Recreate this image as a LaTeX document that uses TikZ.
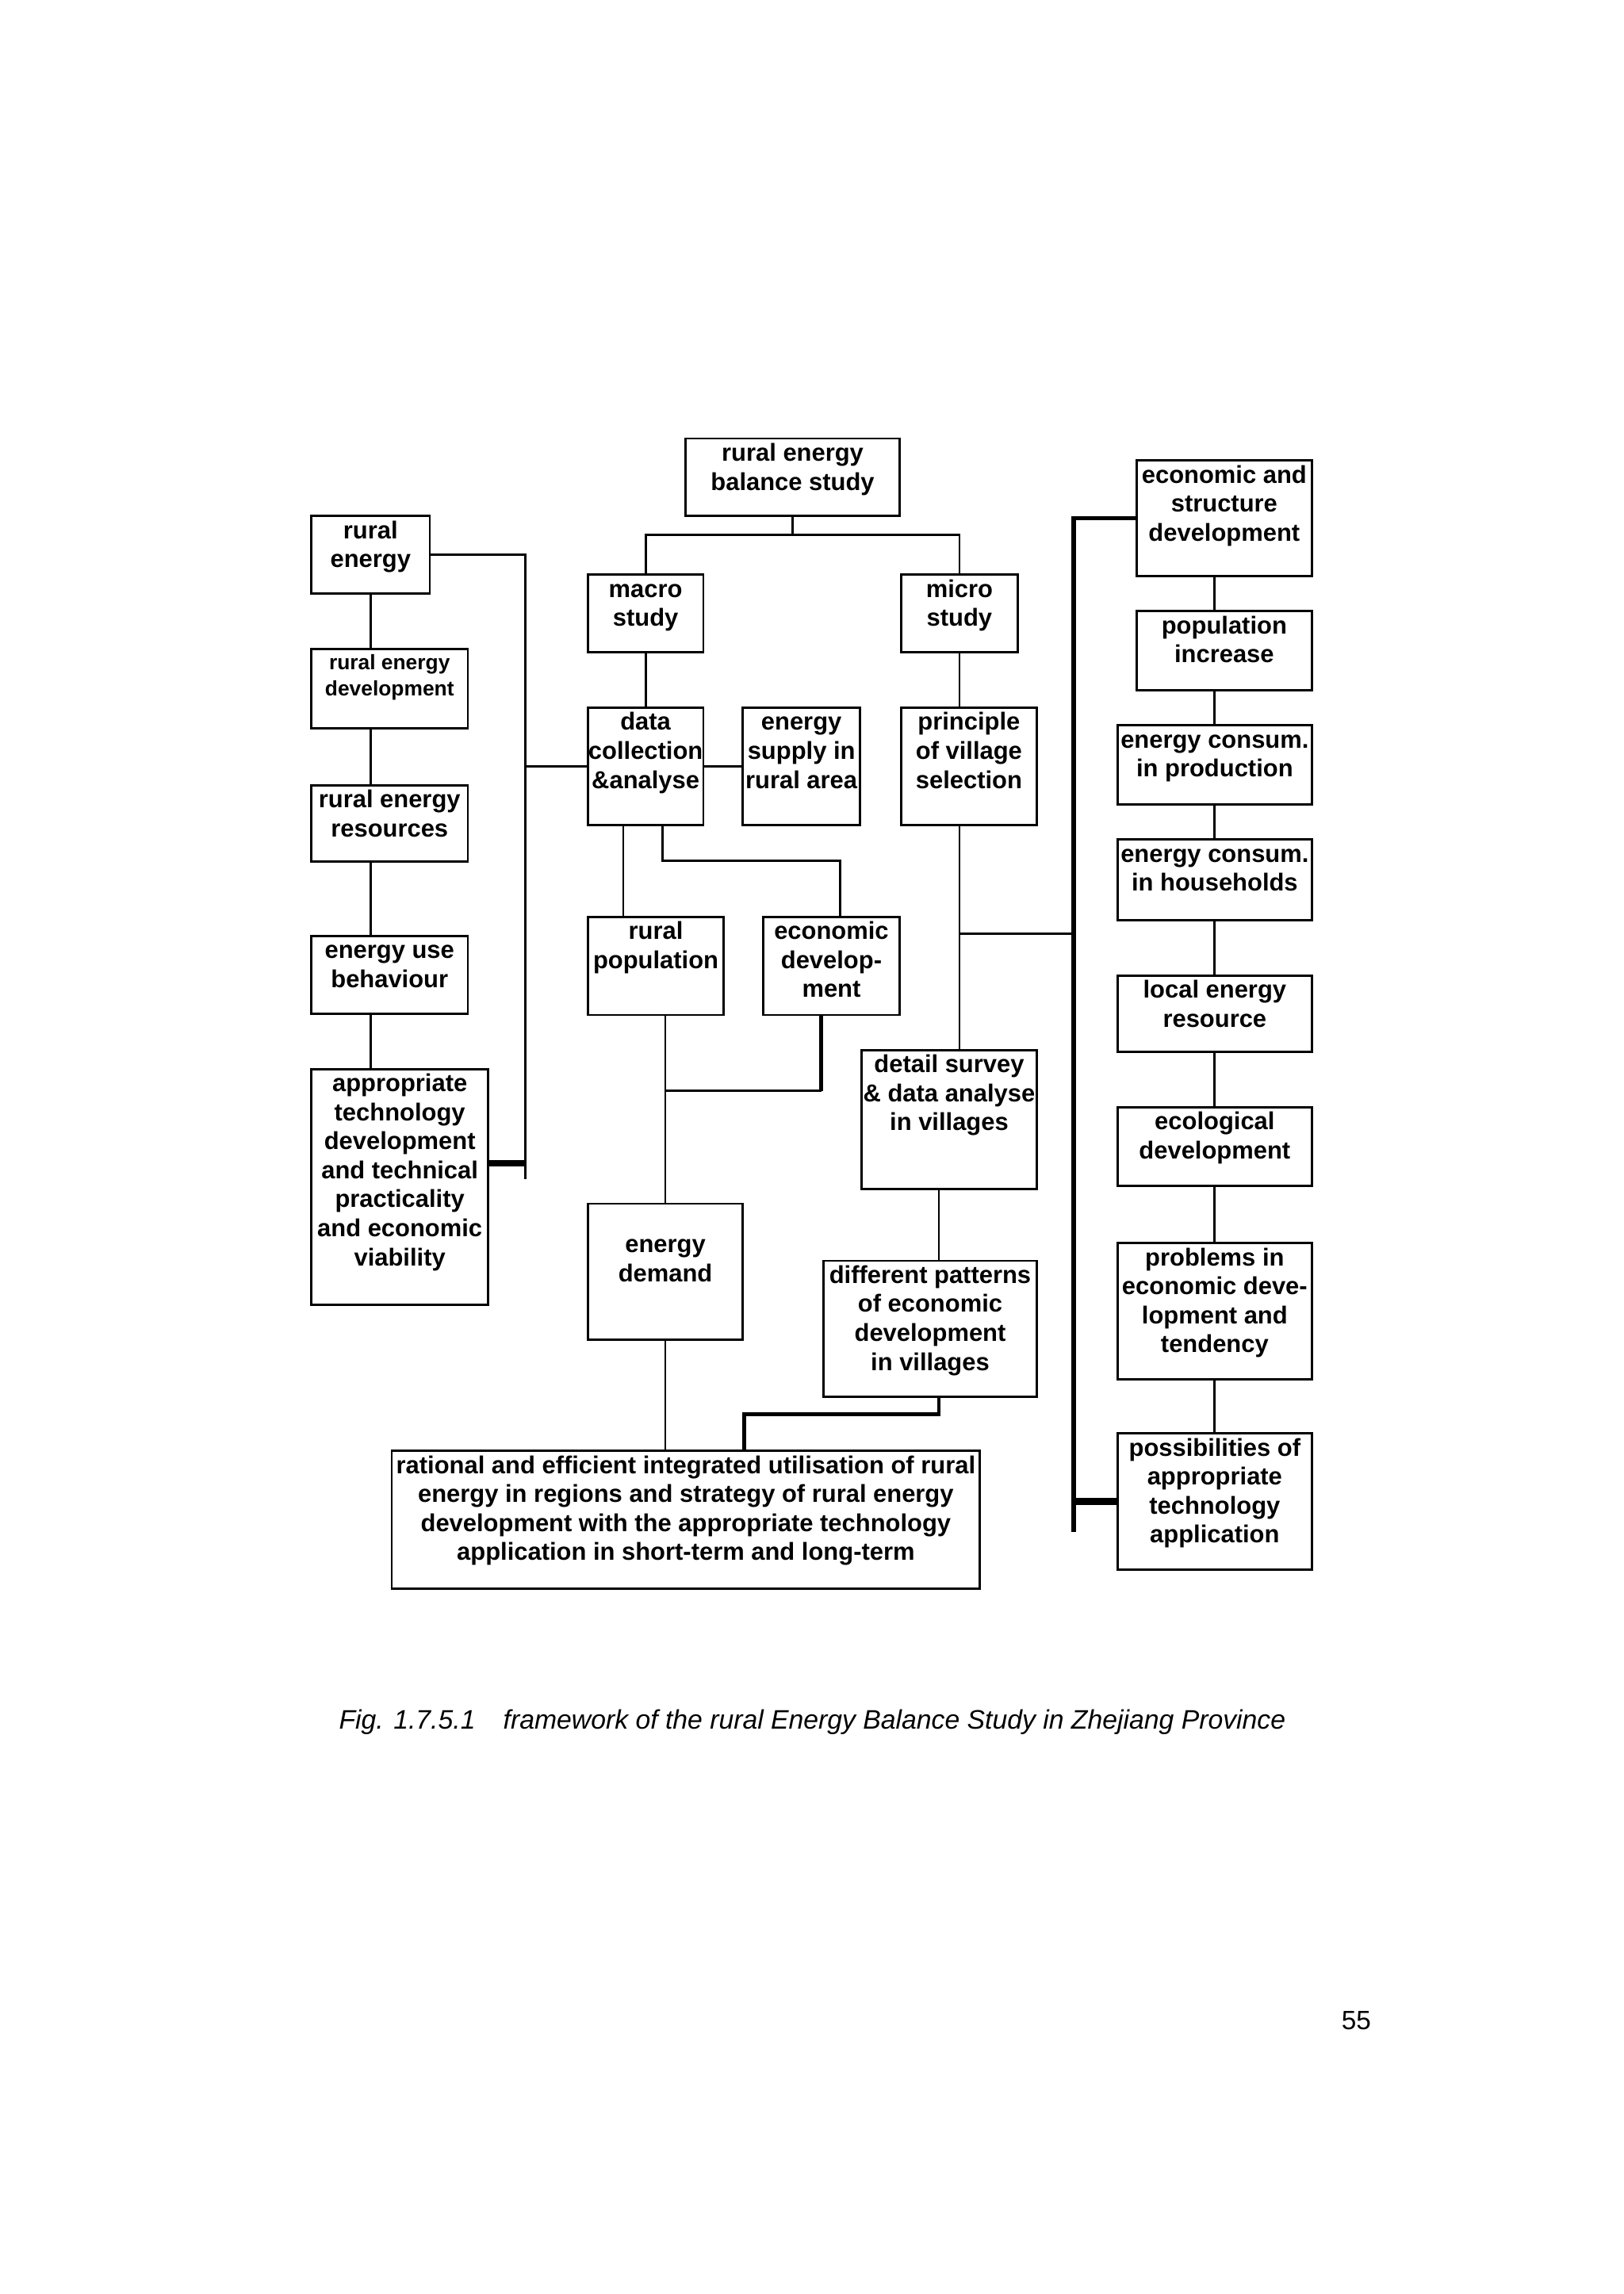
\documentclass[tikz,border=0pt]{standalone}
\usepackage{fontspec}
\setmainfont{Liberation Sans}
\usetikzlibrary{calc}
\tikzset{
  box/.style n args={2}{draw, anchor=north west, inner sep=0pt, minimum width=#1*0.1845mm, minimum height=#2*0.1845mm},
  txt/.style={anchor=north, align=center, inner sep=0pt, yshift=-0.8pt, font=\bfseries\fontsize{8.8}{10.4}\selectfont},
  small/.style={font=\bfseries\fontsize{7.5}{9.3}\selectfont},
  mid/.style={line width=1.3pt},
  bus/.style={line width=1.6pt},
  stub/.style={line width=2.4pt}
}

\begin{document}
\begin{tikzpicture}[x=0.1845mm, y=-0.1845mm, line width=0.8pt]
\useasboundingbox (0,0) rectangle (1110,1568);

\node[box={146}{53}, label={[txt]north:\strut rural energy\\balance study}] (top) at (468,299) {};
\node[box={81}{53}, label={[txt]north:\strut rural\\energy}] (re) at (212,352) {};
\node[box={107}{54}, label={[txt,small]north:\strut rural energy\\development}] (red) at (212,443) {};
\node[box={107}{52}, label={[txt]north:\strut rural energy\\resources}] (res) at (212,536) {};
\node[box={107}{53}, label={[txt]north:\strut energy use\\behaviour}] (eub) at (212,639) {};
\node[box={121}{161}, label={[txt]north:\strut appropriate\\technology\\development\\and technical\\practicality\\and economic\\viability}] (atd) at (212,730) {};

\node[box={79}{53}, label={[txt]north:\strut macro\\study}] (macro) at (401,392) {};
\node[box={80}{53}, label={[txt]north:\strut micro\\study}] (micro) at (615,392) {};
\node[box={79}{80}, label={[txt]north:\strut data\\collection\\\&analyse}] (data) at (401,483) {};
\node[box={80}{80}, label={[txt]north:\strut energy\\supply in\\rural area}] (supply) at (507,483) {};
\node[box={93}{80}, label={[txt]north:\strut principle\\of village\\selection}] (principle) at (615,483) {};
\node[box={93}{67}, label={[txt]north:\strut rural\\population}] (rpop) at (401,626) {};
\node[box={93}{67}, label={[txt]north:\strut economic\\develop-\\ment}] (econ) at (521,626) {};
\node[box={120}{95}, label={[txt]north:\strut detail survey\\\& data analyse\\in villages}] (detail) at (588,717) {};
\node[box={106}{93}, label={[txt,yshift=-9.5pt]north:\strut energy\\demand}] (demand) at (401,822) {};
\node[box={146}{93}, label={[txt]north:\strut different patterns\\of economic\\development\\in villages}] (patterns) at (562,861) {};
\node[box={402}{94}, label={[txt]north:\strut rational and efficient integrated utilisation of rural\\energy in regions and strategy of rural energy\\development with the appropriate technology\\application in short-term and long-term}] (rational) at (267,991) {};

\node[box={120}{79}, label={[txt]north:\strut economic and\\structure\\development}] (esd) at (776,314) {};
\node[box={120}{54}, label={[txt]north:\strut population\\increase}] (popinc) at (776,417) {};
\node[box={133}{54}, label={[txt]north:\strut energy consum.\\in production}] (ecprod) at (763,495) {};
\node[box={133}{55}, label={[txt]north:\strut energy consum.\\in households}] (echh) at (763,573) {};
\node[box={133}{52}, label={[txt]north:\strut local energy\\resource}] (ler) at (763,666) {};
\node[box={133}{54}, label={[txt]north:\strut ecological\\development}] (eco) at (763,756) {};
\node[box={133}{93}, label={[txt]north:\strut problems in\\economic deve-\\lopment and\\tendency}] (prob) at (763,849) {};
\node[box={133}{93}, label={[txt]north:\strut possibilities of\\appropriate\\technology\\application}] (poss) at (763,979) {};

\path (top.south) ++(0,12) coordinate (split);
\draw (top.south) -- (split);
\draw (macro.north) |- (split) -| (micro.north);
\draw (macro.south) -- (data.north);
\draw (micro.south) -- (micro.south |- principle.north);
\draw (data.east) -- (supply.west);

\coordinate (brbot) at (359,806);
\draw (re.east) -| (brbot);
\draw[stub] (atd.east |- 0,795) -- (brbot |- 0,795);
\draw (brbot |- data.west) -- (data.west);
\draw (re.south) -- (re.south |- red.north);
\draw (re.south |- red.south) -- (re.south |- res.north);
\draw (re.south |- res.south) -- (re.south |- eub.north);
\draw (re.south |- eub.south) -- (re.south |- atd.north);

\draw ($(data.south west)+(25,0)$) coordinate (dp) -- (dp |- rpop.north);
\draw ($(data.south west)+(52,0)$) -- ++(0,24) -| ($(econ.north)+(6,0)$);
\draw (demand.north |- rpop.south) -- (demand.north);
\draw[mid] ($(econ.south)+(-7,0)$) -- ++(0,51) coordinate (ek);
\draw (ek) -- (ek -| demand.north);

\coordinate (busbot) at (734,1047);
\draw (micro.south |- principle.south) -- (micro.south |- detail.north);
\draw (micro.south |- 0,638) -- (busbot |- 0,638);
\draw[bus] (esd.west) -| (busbot);
\draw[stub] (poss.west -| busbot) -- (poss.west);

\draw (ecprod.north |- esd.south) -- (ecprod.north |- popinc.north);
\draw (ecprod.north |- popinc.south) -- (ecprod.north);
\draw (ecprod.south) -- (echh.north);
\draw (echh.south) -- (ler.north);
\draw (ler.south) -- (eco.north);
\draw (eco.south) -- (prob.north);
\draw (prob.south) -- (poss.north);

\draw ($(detail.south)+(-7,0)$) coordinate (pv) -- (pv |- patterns.north);
\draw[mid] (pv |- patterns.south) -- ++(0,11) -| (demand.east |- rational.north);
\draw (demand.south) -- (demand.south |- rational.north);

\node[anchor=west, inner sep=0pt, font=\itshape\fontsize{9.6}{11}\selectfont] (caption) at (231,1177) {Fig. 1.7.5.1\hspace{10pt}framework of the rural Energy Balance Study in Zhejiang Province};
\node[inner sep=0pt, font=\fontsize{9.5}{11}\selectfont] (pagenum) at (927,1381) {55};
\end{tikzpicture}
\end{document}
